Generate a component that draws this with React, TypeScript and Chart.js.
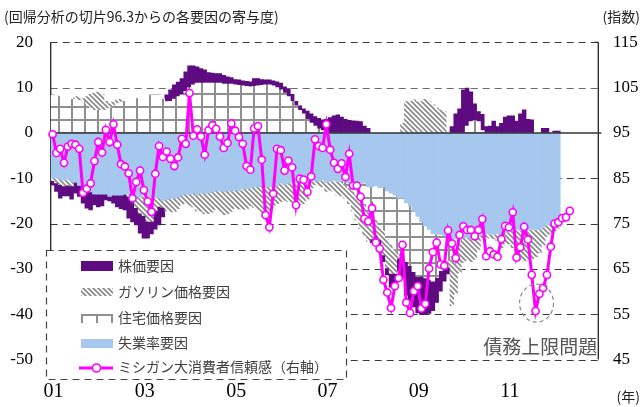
import React, { useEffect, useRef } from "react";
import Chart from "chart.js/auto";

// Monthly categories: 2001-01 .. 2012-12
const startYear = 2001;
const monthCount = 144;
const yearTickLabels = ["01", "03", "05", "07", "09", "11"];

// Contributions from the regression intercept (left axis), 2001-01 .. 2012-02
const stockFactor = [
  -1.0, -1.9, -3.0, -2.2, -2.4, -2.9, -2.4, -2.4, -3.6, -4.0, -4.0, -2.4,
  -2.8, -2.6, -1.3, -1.0, -1.8, -2.6, -3.0, -3.5, -4.8, -4.6, -3.8, -4.4,
  -5.0, -3.7, -2.8, -4.0, -4.1, -2.1, 1.5, 2.5, 3.1, 3.2, 3.5, 4.3,
  4.8, 4.2, 3.6, 3.2, 2.9, 2.3, 2.2, 2.1, 2.1, 1.9, 1.6, 1.4,
  1.2, 1.2, 1.1, 1.1, 1.1, 1.7, 1.6, 1.3, 1.1, 1.1, 1.1, 1.3,
  1.5, 1.4, 1.8, 1.5, 1.0, 1.0, 1.1, 1.8, 2.0, 2.1, 2.3, 2.4,
  2.8, 3.4, 3.8, 4.0, 3.5, 3.0, 2.8, 2.7, 2.6, 2.5, 1.5, 1.0,
  -0.8, -1.6, -2.0, -1.5, -1.5, -3.0, -2.8, -2.8, -4.6, -7.4, -7.8, -7.8,
  -8.0, -8.5, -8.0, -7.5, -6.5, -5.5, -4.5, -3.5, -1.5, 1.4, 4.2, 5.3,
  9.5, 8.4, 6.6, 3.6, 2.2, 3.6, 1.4, 1.5, 2.6, 1.4, 2.1, 3.5,
  3.8, 3.8, 2.6, 4.2, 5.1, 3.0, 2.9, 0.0, 0.0, 1.0, 1.0, 0.0,
  0.4, 0.4,
];

const gasolineFactor = [
  -0.5, -1.0, -1.2, -1.3, -1.3, -1.0, 0.6, 0.6, 0.6, 2.0, 3.0, 3.8,
  4.0, 3.5, 2.0, 1.0, 0.8, 0.8, 0.6, 0.0, -0.5, -1.5, -2.5, -3.5,
  -4.5, -5.5, -5.5, -3.0, -1.8, -1.5, -2.5, -3.0, -3.0, -2.5, -2.0, -2.0,
  -2.5, -3.0, -3.5, -4.0, -4.5, -4.5, -4.5, -4.0, -4.5, -5.0, -5.0, -4.5,
  -4.0, -4.0, -4.5, -4.5, -4.0, -4.5, -5.0, -6.0, -7.0, -6.0, -4.5, -4.0,
  -4.0, -3.5, -4.0, -4.5, -5.0, -5.0, -4.5, -3.5, -1.5, -1.0, -1.0, -1.5,
  -2.0, -2.0, -2.5, -3.0, -3.5, -3.0, -3.5, -4.5, -5.5, -6.5, -7.0, -6.5,
  -5.0, -3.5, -3.0, -5.5, -6.5, -6.5, -5.5, -1.0, 2.1, 6.9, 6.9, 7.3,
  6.9, 6.9, 7.4, 7.0, 6.2, 5.5, 5.1, 4.7, -1.5, -11.0, -10.0, -7.0,
  -5.5, -5.0, -5.0, -4.5, -3.0, -1.0, -0.8, -0.8, -1.0, -1.5, -2.2, -2.5,
  -3.0, -4.0, -5.5, -6.5, -7.0, -6.5, -6.5, -6.0, -5.0, -4.0, -2.5, -2.0,
  -2.0, -2.5,
];

const housingFactor = [
  8.4, 8.2, 8.0, 7.8, 7.6, 7.4, 7.4, 7.2, 7.0, 6.0, 5.5, 5.0,
  5.0, 5.0, 5.0, 5.5, 6.0, 6.5, 6.8, 7.0, 7.2, 7.4, 7.6, 7.8,
  8.0, 8.2, 8.4, 8.4, 8.4, 7.5, 6.9, 7.0, 7.5, 8.0, 8.5, 9.2,
  10.0, 10.6, 11.0, 11.0, 11.0, 11.0, 11.0, 11.0, 11.0, 10.8, 10.8, 10.8,
  10.6, 10.5, 10.4, 10.3, 10.2, 10.3, 10.4, 10.5, 10.6, 10.6, 10.4, 10.0,
  9.5, 8.8, 8.0, 7.0, 6.0, 5.0, 4.2, 3.0, 2.2, 1.5, 0.9, 0.5,
  0.2, 0.0, 0.0, 0.0, 0.0, -0.5, -1.0, -1.8, -2.6, -3.5, -4.5, -5.5,
  -6.5, -7.5, -8.5, -9.5, -10.5, -11.2, -11.8, -12.3, -12.8, -13.0, -13.2, -13.3,
  -13.3, -12.0, -11.5, -11.0, -10.5, -9.5, -8.0, -6.5, -5.0, -3.5, -2.0, -0.5,
  0.0, 1.5, 2.5, 2.8, 2.5, 0.5, 0.0, 0.0, 0.0, 0.0, 0.0, 0.0,
  0.0, 0.0, 0.0, 0.0, 0.0, 0.0, 0.0, 0.0, 0.0, 0.0, 0.0, 0.0,
  0.0, 0.0,
];

const unemploymentFactor = [
  -10.0, -10.0, -10.2, -10.4, -10.2, -10.7, -10.9, -11.6, -11.9, -12.6, -13.0, -13.5,
  -13.5, -13.5, -13.5, -14.0, -13.7, -13.7, -13.7, -13.5, -13.5, -13.5, -14.0, -14.2,
  -13.7, -14.0, -14.0, -14.2, -14.4, -14.9, -14.7, -14.4, -14.4, -14.2, -13.7, -13.5,
  -13.5, -13.3, -13.7, -13.3, -13.3, -13.3, -13.0, -12.8, -12.8, -13.0, -12.8, -12.8,
  -12.6, -12.8, -12.3, -12.3, -12.1, -11.9, -11.9, -11.6, -11.9, -11.9, -11.9, -11.6,
  -11.1, -11.4, -11.1, -11.1, -10.9, -10.9, -11.1, -11.1, -10.7, -10.4, -10.7, -10.4,
  -10.9, -10.7, -10.4, -10.7, -10.4, -10.9, -11.1, -10.9, -11.1, -11.1, -11.1, -11.9,
  -11.9, -11.6, -12.1, -11.9, -12.8, -13.3, -13.7, -14.4, -14.4, -15.4, -16.1, -17.3,
  -18.4, -19.6, -20.5, -21.3, -22.2, -22.4, -22.4, -22.7, -23.1, -23.6, -23.4, -23.4,
  -23.1, -23.1, -23.4, -23.4, -22.7, -22.2, -22.2, -22.4, -22.4, -22.2, -23.1, -22.0,
  -21.5, -21.3, -21.3, -21.5, -21.3, -21.5, -21.3, -21.3, -21.3, -20.8, -20.3, -20.1,
  -19.6, -18.5,
];

// University of Michigan consumer sentiment (right axis), 2001-01 .. 2012-05
const sentiment = [
  94.7, 90.6, 91.5, 88.4, 92.0, 92.6, 92.4, 91.5, 81.8, 82.7, 83.9, 88.8,
  93.0, 90.7, 95.7, 93.0, 96.9, 92.4, 88.1, 87.6, 86.1, 80.6, 84.2, 86.7,
  82.4, 79.9, 77.6, 86.0, 92.1, 89.7, 90.9, 89.3, 87.7, 89.6, 93.7, 92.6,
  103.8, 94.4, 95.8, 94.2, 90.2, 95.6, 96.7, 95.9, 94.2, 91.7, 92.8, 97.1,
  95.5, 94.1, 92.6, 87.7, 86.9, 96.0, 96.5, 89.1, 76.9, 74.2, 81.6, 91.5,
  91.2, 86.7, 88.9, 87.4, 79.1, 84.9, 84.7, 82.0, 85.4, 93.6, 92.1, 91.7,
  96.9, 91.3, 88.4, 87.1, 88.3, 85.3, 90.4, 83.4, 83.4, 80.9, 76.1, 75.5,
  78.4, 70.8, 69.5, 62.6, 59.8, 56.4, 61.2, 63.0, 70.3, 57.6, 55.3, 60.1,
  61.2, 56.3, 57.3, 65.1, 68.7, 70.8, 66.0, 65.7, 73.5, 70.6, 67.4, 72.5,
  74.4, 73.6, 73.6, 72.2, 73.6, 76.0, 67.8, 68.9, 68.2, 67.7, 71.6, 74.5,
  74.2, 77.5, 67.5, 69.8, 74.3, 71.5, 63.7, 55.7, 59.5, 60.8, 63.7, 69.9,
  75.0, 75.3, 76.2, 76.4, 77.8,
];

const leftTicks = [20, 10, 0, -10, -20, -30, -40, -50];
const rightTicks = [115, 105, 95, 85, 75, 65, 55, 45];

const seriesNames = ["株価要因", "ガソリン価格要因", "住宅価格要因", "失業率要因", "ミシガン大消費者信頼感（右軸）"];
const debtCeilingMonth = "2011-08";

const PURPLE = "#5e0a80";
const BLUE = "#a6c8ee";
const MAGENTA = "#ff00ff";
const SERIF = "'Liberation Serif', 'Times New Roman', serif";
const JP = "'Noto Sans CJK JP', sans-serif";

function makeHatch(): CanvasPattern | string {
  const c = document.createElement("canvas");
  c.width = 5;
  c.height = 5;
  const g = c.getContext("2d");
  if (!g) return "#aaa";
  g.fillStyle = "#ffffff";
  g.fillRect(0, 0, 5, 5);
  g.strokeStyle = "#8a8a8a";
  g.lineWidth = 1.7;
  g.beginPath();
  for (let k = -5; k <= 5; k += 5) {
    g.moveTo(k - 1, -1);
    g.lineTo(k + 6, 6);
  }
  g.stroke();
  const p = g.createPattern(c, "repeat");
  return p || "#aaa";
}

function makeGrid(): CanvasPattern | string {
  const s = 13;
  const c = document.createElement("canvas");
  c.width = s;
  c.height = s;
  const g = c.getContext("2d");
  if (!g) return "#ddd";
  g.fillStyle = "#ffffff";
  g.fillRect(0, 0, s, s);
  g.fillStyle = "#8f8f8f";
  g.fillRect(0, 0, 2, s);
  g.fillRect(0, 0, s, 2);
  const p = g.createPattern(c, "repeat");
  if (!p) return "#ddd";
  if (typeof DOMMatrix !== "undefined") p.setTransform(new DOMMatrix().translate(6, 2));
  return p;
}

export default function App() {
  const ref = useRef<HTMLCanvasElement | null>(null);

  useEffect(() => {
    const canvas = ref.current;
    if (!canvas) return;
    const labels: string[] = [];
    for (let i = 0; i < monthCount; i++) {
      const y = startYear + Math.floor(i / 12);
      const m = (i % 12) + 1;
      labels.push(`${y}-${m < 10 ? "0" + m : m}`);
    }
    const hatch = makeHatch();
    const grid = makeGrid();

    const overlay = {
      id: "overlay",
      beforeDatasetsDraw(chart: any) {
        const { ctx, chartArea: a, scales } = chart;
        const y = scales.y;
        ctx.save();
        ctx.lineWidth = 1.2;
        ctx.setLineDash([7, 5]);
        leftTicks.forEach((v) => {
          if (v === 0) return;
          ctx.strokeStyle = v === 10 ? "#6a6a6a" : "#3a3a3a";
          const py = Math.round(y.getPixelForValue(v)) + 0.5;
          ctx.beginPath();
          ctx.moveTo(a.left, py);
          ctx.lineTo(a.right, py);
          ctx.stroke();
        });
        ctx.setLineDash([]);
        ctx.strokeStyle = "#222";
        ctx.lineWidth = 1.3;
        ctx.beginPath();
        ctx.moveTo(a.left, a.top);
        ctx.lineTo(a.left, a.bottom);
        ctx.moveTo(a.right, a.top);
        ctx.lineTo(a.right, a.bottom);
        ctx.moveTo(a.right, a.top);
        ctx.lineTo(a.right - 4, a.top);
        ctx.stroke();
        ctx.restore();
      },
      beforeDatasetDraw(chart: any, args: any) {
        if (args.meta.type !== "line") return;
        const { ctx, chartArea: a, scales } = chart;
        const py = scales.y.getPixelForValue(0);
        ctx.save();
        ctx.strokeStyle = "#333";
        ctx.lineWidth = 1.4;
        ctx.beginPath();
        ctx.moveTo(a.left, py);
        ctx.lineTo(a.right + 3, py);
        ctx.stroke();
        ctx.restore();
      },
      afterDraw(chart: any) {
        const { ctx, chartArea: a, scales } = chart;
        const y = scales.y;
        const y1 = scales.y1;
        const x = scales.x;
        ctx.save();

        // legend panel
        const lx = 46, ly = 250, lw = 300, lh = 129;
        ctx.fillStyle = "#fff";
        ctx.fillRect(lx, ly, lw, lh);
        ctx.strokeStyle = "#444";
        ctx.lineWidth = 1.2;
        ctx.setLineDash([7, 5]);
        ctx.strokeRect(lx + 0.5, ly + 0.5, lw, lh);
        ctx.setLineDash([]);

        const sx = 81, sw = 32;
        ctx.font = `14px ${JP}`;
        ctx.textAlign = "left";
        ctx.textBaseline = "middle";
        ctx.fillStyle = PURPLE;
        ctx.fillRect(sx, 261, sw, 10);
        ctx.fillStyle = hatch as any;
        ctx.fillRect(sx, 288, sw, 8);
        ctx.strokeStyle = "#8f8f8f";
        ctx.lineWidth = 2;
        ctx.beginPath();
        ctx.moveTo(sx, 315);
        ctx.lineTo(sx + sw, 315);
        [sx + 1, sx + 16, sx + 31].forEach((vx) => {
          ctx.moveTo(vx, 315);
          ctx.lineTo(vx, 323);
        });
        ctx.stroke();
        ctx.fillStyle = BLUE;
        ctx.fillRect(sx, 339, sw, 9);
        ctx.strokeStyle = MAGENTA;
        ctx.lineWidth = 3;
        ctx.beginPath();
        ctx.moveTo(79, 368);
        ctx.lineTo(113, 368);
        ctx.stroke();
        ctx.fillStyle = "#fff";
        ctx.lineWidth = 1.6;
        ctx.beginPath();
        ctx.arc(96.5, 368, 4, 0, Math.PI * 2);
        ctx.fill();
        ctx.stroke();

        ctx.fillStyle = "#404040";
        const rows = [266, 292, 318, 343, 367];
        seriesNames.forEach((n, k) => ctx.fillText(n, 118, rows[k]));

        // axis tick labels
        ctx.fillStyle = "#000";
        ctx.font = `17px ${SERIF}`;
        ctx.textAlign = "right";
        leftTicks.forEach((v) => ctx.fillText(String(v), 33, y.getPixelForValue(v)));
        ctx.textAlign = "left";
        rightTicks.forEach((v) => ctx.fillText(String(v), 613, y1.getPixelForValue(v)));
        ctx.font = `20px ${SERIF}`;
        ctx.textAlign = "center";
        yearTickLabels.forEach((t) => {
          const idx = labels.indexOf(`20${t}-01`);
          ctx.fillText(t, x.getPixelForValue(idx) + 1, 392);
        });

        // titles
        ctx.font = `14px ${JP}`;
        ctx.fillStyle = "#222";
        ctx.textAlign = "left";
        ctx.fillText("(回帰分析の切片96.3からの各要因の寄与度)", 4, 17);
        ctx.textAlign = "right";
        ctx.fillText("(指数)", 640, 17);
        ctx.fillText("(年)", 640, 397);

        // debt-ceiling annotation
        const di = labels.indexOf(debtCeilingMonth);
        const cx = x.getPixelForValue(di);
        const cy = y1.getPixelForValue(sentiment[di]);
        ctx.strokeStyle = "#8a8a8a";
        ctx.lineWidth = 1.2;
        ctx.setLineDash([4, 3]);
        ctx.beginPath();
        ctx.ellipse(cx + 1, cy - 8, 17, 19, 0, 0, Math.PI * 2);
        ctx.stroke();
        ctx.setLineDash([]);
        ctx.font = `19px ${JP}`;
        ctx.fillStyle = "#555";
        ctx.textAlign = "right";
        ctx.fillText("債務上限問題", a.right - 1, 347);
        ctx.restore();
      },
    };

    const barCommon = {
      type: "bar" as const,
      stack: "f",
      borderWidth: 0,
      barPercentage: 1,
      categoryPercentage: 1,
      order: 1,
      yAxisID: "y",
    };

    const chart = new Chart(canvas, {
      data: {
        labels,
        datasets: [
          { ...barCommon, label: seriesNames[3], data: unemploymentFactor, backgroundColor: BLUE },
          { ...barCommon, label: seriesNames[2], data: housingFactor, backgroundColor: grid as any },
          { ...barCommon, label: seriesNames[1], data: gasolineFactor, backgroundColor: hatch as any },
          { ...barCommon, label: seriesNames[0], data: stockFactor, backgroundColor: PURPLE },
          {
            type: "line" as const,
            label: seriesNames[4],
            data: sentiment,
            yAxisID: "y1",
            order: 0,
            borderColor: MAGENTA,
            borderWidth: 3,
            pointRadius: 3.6,
            pointBorderWidth: 1.6,
            pointBackgroundColor: "#fff",
            pointBorderColor: MAGENTA,
            tension: 0,
          },
        ],
      } as any,
      options: {
        animation: false,
        responsive: false,
        maintainAspectRatio: false,
        events: [],
        layout: { padding: { left: 50.7, right: 43.7, top: 42.3, bottom: 47.4 } },
        plugins: { legend: { display: false }, tooltip: { enabled: false } },
        scales: {
          x: { type: "category", display: false, stacked: true, offset: true },
          y: { display: false, stacked: true, min: -50, max: 20 },
          y1: { display: false, position: "right", min: 45, max: 115 },
        },
      } as any,
      plugins: [overlay],
    });
    return () => chart.destroy();
  }, []);

  return (
    <div style={{ position: "absolute", left: 0, top: 0, width: 642, height: 407, background: "#fff" }}>
      <canvas ref={ref} width={642} height={407} style={{ width: 642, height: 407, display: "block" }} />
    </div>
  );
}
